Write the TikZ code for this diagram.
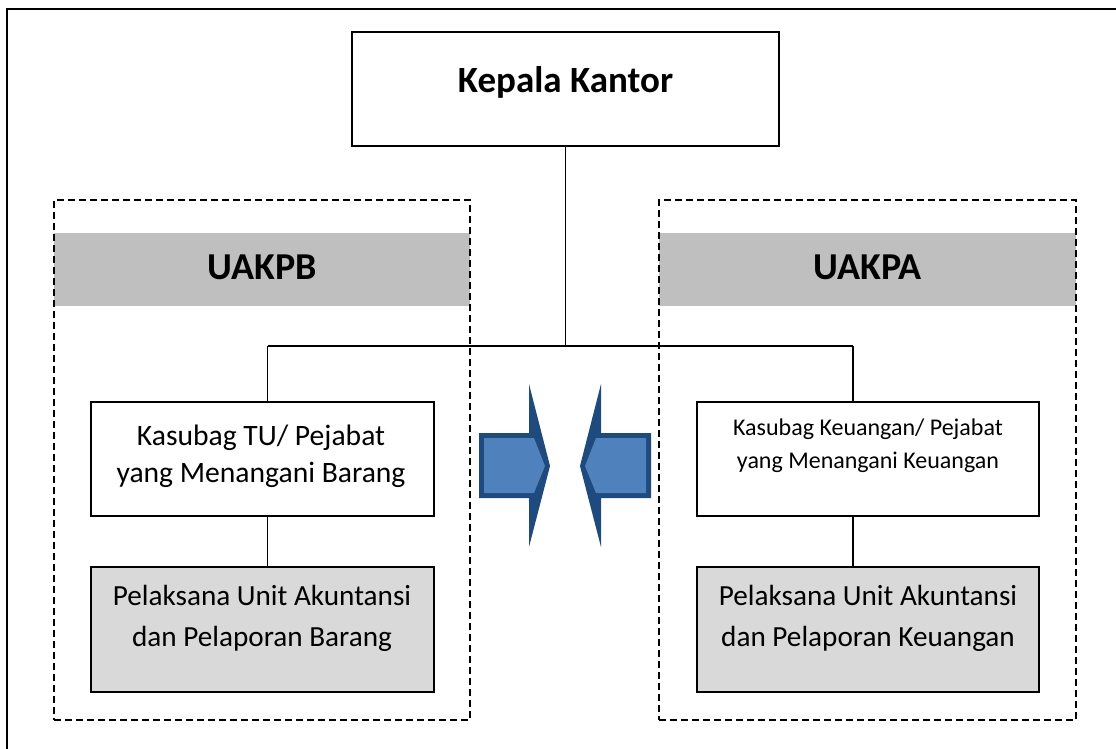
\documentclass[tikz,border=0pt]{standalone}
\usepackage{fontspec}
\setmainfont{Carlito}
\definecolor{bannergray}{HTML}{BFBFBF}
\definecolor{staffgray}{HTML}{D9D9D9}
\definecolor{arrowfill}{HTML}{4F81BD}
\definecolor{arrowedge}{HTML}{1F4A7E}
\begin{document}
\begin{tikzpicture}[x=1pt,y=-1pt,
  solidbox/.style={draw=black, line width=2pt, inner sep=0pt},
  unitbox/.style={draw=black, line width=1.5pt, dash pattern=on 7pt off 4pt, inner sep=0pt},
  banner/.style={fill=bannergray, inner sep=0pt},
  link/.style={draw=black, line width=1.4pt},
  bigbold/.style={font={\fontsize{37}{42}\selectfont\bfseries}, inner sep=0pt, anchor=base},
  body/.style={align=center, inner sep=0pt, anchor=base}]
\useasboundingbox (0,0) rectangle (1116,749);

% outer frame, open to the right and bottom
\draw[line width=2pt] (6.5,749) -- (6.5,9.5) -- (1116,9.5);

% unit banners and dashed unit frames
\node[banner, minimum width=416pt, minimum height=73pt] (bannerB) at (262,269.5) {};
\node[banner, minimum width=417pt, minimum height=73pt] (bannerA) at (867.5,269.5) {};
\node[unitbox, minimum width=416pt, minimum height=520pt] (unitB) at (262,460) {};
\node[unitbox, minimum width=417pt, minimum height=520pt] (unitA) at (867.5,460) {};
\node[bigbold, font={\fontsize{38}{42}\selectfont\bfseries}] (titleB) at (262,279) {UAKPB};
\node[bigbold, font={\fontsize{38}{42}\selectfont\bfseries}] (titleA) at (867.5,279) {UAKPA};

% boxes
\node[solidbox, fill=white, minimum width=427pt, minimum height=114pt] (kepala) at (565.5,89) {};
\node[solidbox, fill=white, minimum width=343pt, minimum height=114pt] (kasubagB) at (262.5,459) {};
\node[solidbox, fill=staffgray, minimum width=343pt, minimum height=125pt] (pelaksanaB) at (262.5,629.5) {};
\node[solidbox, fill=white, minimum width=342pt, minimum height=114pt] (kasubagA) at (868,459) {};
\node[solidbox, fill=staffgray, minimum width=342pt, minimum height=125pt] (pelaksanaA) at (868,629.5) {};

% box texts (base anchor sits on the last line)
\node[bigbold] (kepalaText) at (565.5,93) {Kepala Kantor};
\node[body, font={\fontsize{29.6}{37}\selectfont}] (kasubagBText) at (261,482) {Kasubag TU/ Pejabat\\yang Menangani Barang};
\node[body, font={\fontsize{24}{33}\selectfont}] (kasubagAText) at (868,468) {Kasubag Keuangan/ Pejabat\\yang Menangani Keuangan};
\node[body, font={\fontsize{29.2}{41}\selectfont}] (pelaksanaBText) at (262,646) {Pelaksana Unit Akuntansi\\dan Pelaporan Barang};
\node[body, font={\fontsize{29.2}{41}\selectfont}] (pelaksanaAText) at (868,646) {Pelaksana Unit Akuntansi\\dan Pelaporan Keuangan};

% connectors
\coordinate (busB) at (267.5,346);
\coordinate (busA) at (853,346);
\draw[link] (busB) -- (busA);
\draw[link] (kepala.south) -- (kepala.south |- busB);
\draw[link] (busB) -- (busB |- kasubagB.north);
\draw[link] (busB |- kasubagB.south) -- (busB |- pelaksanaB.north);
\draw[link] (busA) -- (busA |- kasubagA.north);
\draw[link] (busA |- kasubagA.south) -- (busA |- pelaksanaA.north);

% two block arrows pointing at each other
\fill[arrowedge] (479,433) -- (529,433) -- (529,384) -- (550,466) -- (529,547) -- (529,498) -- (479,498) -- cycle;
\fill[arrowfill] (484,438) -- (534,438) -- (545,466) -- (534,493) -- (484,493) -- cycle;
\fill[arrowedge] (651,433) -- (601,433) -- (601,384) -- (580,466) -- (601,547) -- (601,498) -- (651,498) -- cycle;
\fill[arrowfill] (646,438) -- (596,438) -- (585,466) -- (596,493) -- (646,493) -- cycle;
\end{tikzpicture}
\end{document}
